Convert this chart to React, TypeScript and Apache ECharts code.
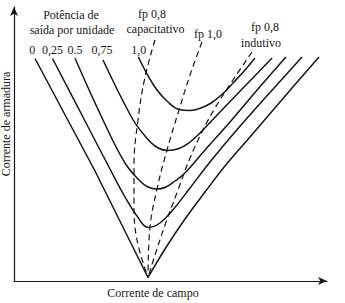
import React, { useEffect, useRef } from "react";
import * as echarts from "echarts";

// Units: field current (x) and armature current (y), arbitrary scale
const X_MAX = 31.3;
const Y_MAX = 27.4;

// V-curves (armature current vs field current) for each per-unit output power
const p0Left: number[][] = [[2.1, 22.25], [8.1, 11.0], [13.4, 0.35]];
const p0Right: number[][] = [[13.4, 0.35], [15.1, 3.2], [17.1, 6.2], [19.1, 8.9], [21.1, 11.5], [23.6, 14.4], [26.6, 17.9], [30.5, 22.4]];
const p025: number[][] = [[3.85, 22.25], [7.1, 16.0], [9.6, 11.2], [11.1, 8.4], [12.3, 6.5], [13.43, 5.35], [14.6, 5.8], [15.8, 7.0], [17.6, 9.3], [19.6, 11.9], [22.1, 14.9], [25.1, 18.3], [28.8, 22.4]];
const p05: number[][] = [[6.1, 22.27], [8.9, 16.1], [11.1, 11.8], [12.6, 10.0], [13.4, 9.4], [14.25, 9.2], [15.1, 9.35], [16.1, 10.0], [17.1, 10.8], [19.1, 13.1], [21.6, 15.9], [24.4, 19.2], [27.2, 22.4]];
const p075: number[][] = [[8.9, 22.1], [11.8, 16.3], [13.1, 14.5], [14.1, 13.5], [15.3, 13.05], [16.5, 13.25], [17.6, 13.9], [18.6, 14.8], [20.6, 16.9], [23.1, 19.5], [25.8, 22.3]];
const p10: number[][] = [[12.43, 22.43], [13.27, 20.77], [14.3, 19.1], [15.4, 17.9], [16.5, 17.15], [17.6, 17.05], [18.7, 17.3], [19.8, 17.85], [20.9, 18.75], [22.0, 19.9], [23.1, 21.1], [24.1, 22.3]];

// Constant power-factor loci (dashed)
const fp08cap: number[][] = [[14.1, 24.1], [13.1, 20.4], [12.4, 16.1], [12.0, 11.6], [12.0, 7.6], [12.3, 4.1], [13.4, 0.35]];
const fp10: number[][] = [[18.8, 23.9], [17.6, 20.6], [16.5, 17.1], [15.3, 13.1], [14.3, 9.2], [13.6, 5.4], [13.4, 0.35]];
const fp08ind: number[][] = [[23.8, 22.9], [21.9, 20.1], [20.1, 17.3], [18.9, 15.1], [17.6, 12.3], [16.4, 9.1], [15.1, 5.6], [14.1, 2.6], [13.4, 0.35]];

const powerLabels = ["0", "0,25", "0.5", "0,75", "1,0"];
const powerLabelX = [32.3, 52.5, 75, 102, 138.7];

const FONT = "Liberation Serif";
const INK = "#161616";

export default function App() {
  const ref = useRef<HTMLDivElement>(null);
  useEffect(() => {
    if (!ref.current) return;
    const chart = echarts.init(ref.current, null, { renderer: "svg" });
    const solid = (data: number[][], smooth: boolean | number = 0.4) => ({
      type: "line",
      data,
      smooth,
      symbol: "none",
      silent: true,
      lineStyle: { color: INK, width: 1.5 },
    });
    const dashed = (data: number[][]) => ({
      type: "line",
      data,
      smooth: 0.4,
      symbol: "none",
      silent: true,
      lineStyle: { color: INK, width: 1.2, type: [6, 4] },
    });
    const txt = (text: string, x: number, y: number, extra: any = {}) => ({
      type: "text",
      x,
      y,
      ...extra,
      style: {
        text,
        fill: INK,
        fontSize: 12,
        fontFamily: FONT,
        align: "center",
        verticalAlign: "middle",
      },
    });
    const axisCommon = {
      type: "value",
      axisTick: { show: false },
      axisLabel: { show: false },
      splitLine: { show: false },
    };
    chart.setOption({
      animation: false,
      backgroundColor: "#ffffff",
      grid: { left: 14, right: 18, top: 7, bottom: 22 },
      xAxis: {
        ...axisCommon,
        min: 0,
        max: X_MAX,
        axisLine: { show: true, symbol: ["none", "arrow"], symbolSize: [6, 9], lineStyle: { color: INK, width: 1.2 } },
      },
      yAxis: {
        ...axisCommon,
        min: 0,
        max: Y_MAX,
        axisLine: { show: true, symbol: ["none", "arrow"], symbolSize: [6, 9], lineStyle: { color: INK, width: 1.2 } },
      },
      series: [
        solid(p0Left, false),
        solid(p0Right),
        solid(p025),
        solid(p05),
        solid(p075),
        solid(p10),
        dashed(fp08cap),
        dashed(fp10),
        dashed(fp08ind),
      ],
      graphic: [
        txt("Potência de", 71, 15),
        txt("saída por unidade", 72, 30),
        ...powerLabels.map((t, i) => txt(t, powerLabelX[i], 49.5)),
        txt("fp 0,8", 152, 14),
        txt("capacitativo", 155.5, 28.5),
        txt("fp 1,0", 208, 33.5),
        txt("fp 0,8", 265, 27),
        txt("indutivo", 261, 43),
        txt("Corrente de campo", 153, 293),
        txt("Corrente de armadura", 6, 124, { rotation: Math.PI / 2 }),
      ],
    });
    return () => chart.dispose();
  }, []);
  return (
    <div
      ref={ref}
      style={{ position: "fixed", left: 0, top: 0, width: 345, height: 303, background: "#fff" }}
    />
  );
}
